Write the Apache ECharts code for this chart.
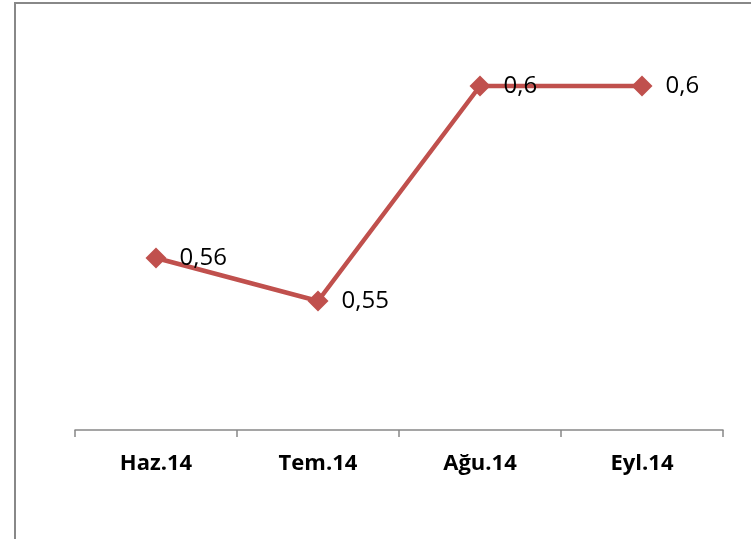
<!DOCTYPE html>
<html>
<head>
<meta charset="utf-8">
<style>
  html, body { margin: 0; padding: 0; background: #fff; }
  #main { width: 751px; height: 539px; }
</style>
<script src="https://cdn.jsdelivr.net/npm/echarts@6/dist/echarts.min.js"></script>
</head>
<body>
<div id="main"></div>
<script>
const months = ['Haz.14', 'Tem.14', 'Ağu.14', 'Eyl.14']
const values = [0.56, 0.55, 0.6, 0.6]

const chart = echarts.init(document.getElementById('main'))
const option = {
  animation: false,
  textStyle: { fontFamily: 'Open Sans' },
  graphic: [
    {
      type: 'rect',
      shape: { x: 15, y: 3, width: 900, height: 700 },
      style: { fill: 'none', stroke: '#888', lineWidth: 2 }
    }
  ],
  grid: {
    left: 75,
    right: 28,
    top: 43,
    bottom: 109
  },
  xAxis: {
    type: 'category',
    data: months,
    axisLine: { lineStyle: { color: '#888', width: 1.5 } },
    axisTick: { show: true, length: 7, lineStyle: { color: '#888', width: 1.5 } },
    axisLabel: {
      margin: 23,
      color: '#000',
      fontSize: 22,
      fontWeight: 'bold',
      fontFamily: 'Open Sans'
    }
  },
  yAxis: {
    type: 'value',
    min: 0.52,
    max: 0.61,
    show: false
  },
  series: [
    {
      type: 'line',
      data: values,
      symbol: 'diamond',
      symbolSize: 21,
      lineStyle: { color: '#C0504D', width: 4.5 },
      itemStyle: { color: '#C0504D' },
      label: {
        show: true,
        position: 'right',
        distance: 13,
        color: '#000',
        fontSize: 24,
        fontFamily: 'Open Sans',
        formatter: p => String(p.value).replace('.', ',')
      }
    }
  ]
}
chart.setOption(option)
</script>
</body>
</html>
